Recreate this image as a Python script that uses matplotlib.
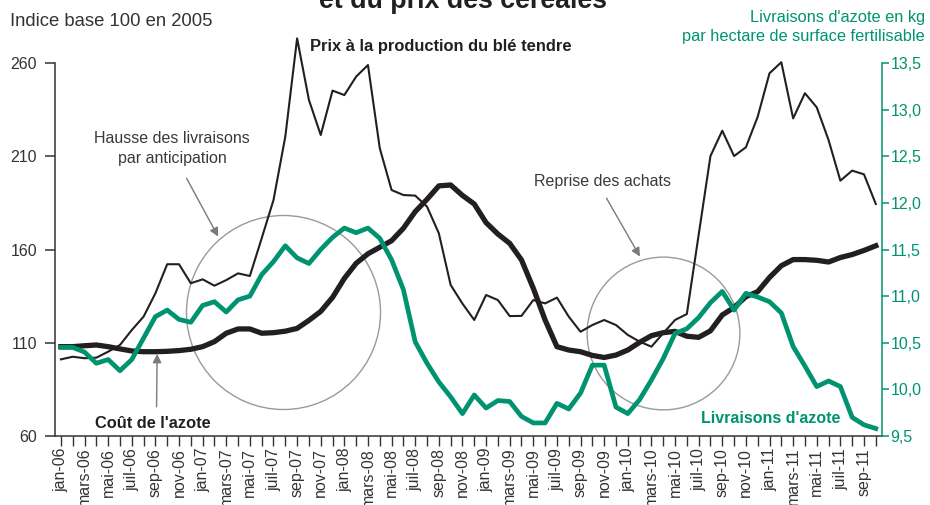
import matplotlib
matplotlib.use('Agg')
import matplotlib.pyplot as plt
import matplotlib.transforms as mtransforms
import numpy as np

plt.rcParams['font.family'] = ['Liberation Sans', 'DejaVu Sans']

# mois de jan-06 a oct-11
mois = ['jan', 'fév', 'mars', 'avr', 'mai', 'juin', 'juil', 'août', 'sep', 'oct', 'nov', 'déc']
annees = [6, 7, 8, 9, 10, 11]

# Prix a la production du ble tendre (indice base 100 en 2005)
prix_ble = [101.1, 102.5, 101.7, 102.0, 105.2, 108.8, 116.8, 124.0, 136.5, 152.1,
            152.1, 141.9, 144.0, 140.6, 143.6, 147.2, 145.8, 166.0, 186.5, 220.5,
            273.2, 240.2, 221.4, 245.2, 242.8, 252.7, 258.9, 214.3, 191.9, 189.2,
            188.9, 183.0, 168.7, 141.0, 131.0, 122.2, 135.6, 132.9, 124.3, 124.4,
            132.9, 131.1, 134.2, 124.0, 115.9, 119.5, 122.2, 119.5, 114.2, 110.6,
            107.9, 115.1, 122.2, 125.4, 167.8, 210.1, 223.7, 210.1, 214.8, 231.2,
            254.5, 260.4, 230.3, 243.8, 236.2, 218.7, 196.9, 202.3, 200.3, 184.4]

# Cout de l'azote (indice base 100 en 2005)
cout_azote = [107.9, 107.9, 108.4, 108.8, 107.9, 106.7, 105.6, 105.2, 105.2, 105.4,
              105.8, 106.5, 107.9, 110.6, 115.1, 117.4, 117.4, 115.1, 115.4, 116.2,
              117.7, 122.0, 126.8, 134.3, 144.5, 152.6, 157.7, 161.2, 164.7, 171.4,
              180.3, 186.9, 194.1, 194.6, 189.0, 184.4, 174.4, 168.3, 163.3, 154.4,
              139.2, 122.2, 107.9, 106.1, 105.2, 103.2, 102.1, 103.4, 106.1, 110.2,
              113.8, 115.4, 116.1, 113.5, 112.9, 116.4, 124.9, 128.9, 134.7, 137.4,
              145.0, 151.3, 154.6, 154.6, 154.2, 153.3, 155.7, 157.3, 159.5, 162.0]

# Livraisons d'azote en kg par hectare de surface fertilisable
livraisons = [10.45, 10.45, 10.40, 10.28, 10.32, 10.20, 10.32, 10.55, 10.78, 10.85,
              10.75, 10.72, 10.90, 10.94, 10.83, 10.96, 11.00, 11.23, 11.37, 11.54,
              11.41, 11.35, 11.50, 11.63, 11.73, 11.68, 11.73, 11.62, 11.39, 11.07,
              10.51, 10.28, 10.08, 9.92, 9.74, 9.94, 9.80, 9.88, 9.87, 9.71,
              9.64, 9.64, 9.85, 9.79, 9.96, 10.26, 10.26, 9.81, 9.74, 9.89,
              10.10, 10.33, 10.60, 10.65, 10.77, 10.93, 11.05, 10.85, 11.03, 10.99,
              10.94, 10.82, 10.46, 10.25, 10.03, 10.09, 10.03, 9.70, 9.62, 9.58]

left_ticks = [60, 110, 160, 210, 260]
right_ticks = [9.5, 10.0, 10.5, 11.0, 11.5, 12.0, 12.5, 13.0, 13.5]

vert = '#00936f'
noir = '#231f20'
gris = '#7a7a7a'

n = len(prix_ble)
x = np.arange(n)
labels = []
for i in range(n):
    m = mois[i % 12]
    a = annees[i // 12]
    labels.append('%s-%02d' % (m, a) if i % 2 == 0 else '')

fig = plt.figure(figsize=(9.3, 5.05), dpi=100)
ax = fig.add_axes([55 / 930, 1 - 436 / 505, 826.7 / 930, 373 / 505])
ax2 = ax.twinx()

ax.plot(x, prix_ble, color=noir, lw=1.5, clip_on=False, zorder=3)
ax.plot(x, cout_azote, color=noir, lw=3.8, clip_on=False, zorder=4,
        solid_joinstyle='round')
ax2.plot(x, livraisons, color=vert, lw=3.4, clip_on=False, zorder=5,
         solid_joinstyle='round')

ax.set_xlim(-0.5, n - 0.5)
ax.set_ylim(60, 260)
ax2.set_ylim(9.5, 13.5)

ax.set_yticks(left_ticks)
ax.set_yticklabels([str(t) for t in left_ticks])
ax2.set_yticks(right_ticks)
ax2.set_yticklabels([('%.1f' % t).replace('.', ',') for t in right_ticks])

ax.set_xticks(x)
ax.set_xticklabels(labels, rotation=90)
off = mtransforms.ScaledTranslation(-6 / 100, 0, fig.dpi_scale_trans)
for lab in ax.get_xticklabels():
    lab.set_transform(lab.get_transform() + off)

for s in ['top', 'right']:
    ax.spines[s].set_visible(False)
for s in ['top', 'left', 'bottom']:
    ax2.spines[s].set_visible(False)
ax.spines['left'].set_color('#333333')
ax.spines['bottom'].set_color('#333333')
ax.spines['left'].set_linewidth(1.1)
ax.spines['bottom'].set_linewidth(1.1)
ax2.spines['right'].set_color(vert)
ax2.spines['right'].set_linewidth(1.1)

ax.tick_params(axis='y', length=7.5, width=1.1, pad=5.5, labelsize=11.5,
               color='#333333', labelcolor='#333333')
ax.tick_params(axis='x', length=7.5, width=1.0, pad=1, labelsize=11.5,
               color='#333333', labelcolor='#333333')
ax2.tick_params(axis='y', length=5, width=1.1, pad=1.5, labelsize=11.5,
                color=vert, labelcolor=vert)

# cercles
ax.plot([18.8], [126.5], 'o', ms=139.7, mfc='none', mec='#9a9a9a', mew=1.0, zorder=2)
ax.plot([51.0], [115.1], 'o', ms=110, mfc='none', mec='#9a9a9a', mew=1.0, zorder=2)

# annotations
arr = dict(arrowstyle='-|>', color=gris, lw=1.0, mutation_scale=13,
           shrinkA=0, shrinkB=0)
ax.annotate('', xy=(13.32, 166.9), xytext=(10.64, 198.2), arrowprops=arr, zorder=6)
ax.text(9.4, 214.0, 'Hausse des livraisons\npar anticipation', ha='center',
        va='center', fontsize=11.5, color='#3a3a3a', linespacing=1.4)

ax.annotate('', xy=(49.03, 156.2), xytext=(46.2, 187.5), arrowprops=arr, zorder=6)
ax.text(45.9, 196.4, 'Reprise des achats', ha='center', va='center',
        fontsize=11.5, color='#3a3a3a')

ax.annotate('', xy=(8.15, 104.0), xytext=(8.1, 75.7), arrowprops=arr, zorder=6)
ax.text(7.8, 66.8, "Coût de l'azote", ha='center', va='center',
        fontsize=11.8, weight='bold', color=noir)

ax.text(21.08, 268.6, 'Prix à la production du blé tendre', ha='left',
        va='center', fontsize=11.9, weight='bold', color=noir)

ax2.text(60.1, 9.69, "Livraisons d'azote", ha='center', va='center',
         fontsize=11.5, weight='bold', color=vert)

fig.text(10 / 930, 1 - 22 / 505, 'Indice base 100 en 2005', ha='left',
         va='center', fontsize=13.3, color='#333333')
fig.text(925 / 930, 1 - 27 / 505,
         "Livraisons d'azote en kg\npar hectare de surface fertilisable",
         ha='right', va='center', ma='right', fontsize=11.8, color=vert,
         linespacing=1.3)
fig.text(463 / 930, 1 - 8 / 505, 'et du prix des céréales', ha='center',
         va='baseline', fontsize=19.3, weight='bold', color=noir)

fig.savefig('out.png', dpi=100)
